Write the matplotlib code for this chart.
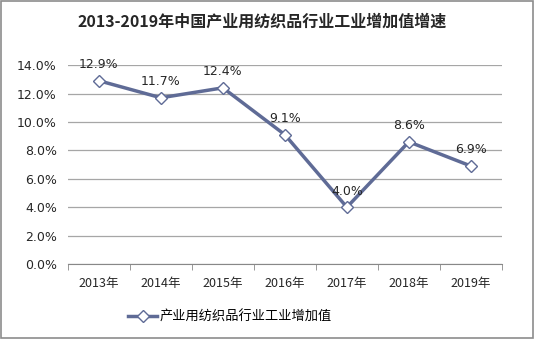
import matplotlib.pyplot as plt
from matplotlib.patches import Rectangle

plt.rcParams['font.family'] = ['Noto Sans CJK SC', 'DejaVu Sans']

years = ["2013年", "2014年", "2015年", "2016年", "2017年", "2018年", "2019年"]
growth = [12.9, 11.7, 12.4, 9.1, 4.0, 8.6, 6.9]
series_name = "产业用纺织品行业工业增加值"

line_color = "#5f6b96"

fig = plt.figure(figsize=(5.35, 3.39), dpi=100)
ax = fig.add_axes([0.127, 0.221, 0.811, 0.587])

x = list(range(len(years)))
ax.plot(x, growth, color=line_color, lw=2.5, marker="D", ms=6.5,
        mfc="white", mec=line_color, mew=1.0, label=series_name, zorder=3)

for xi, v in zip(x, growth):
    ax.annotate(f"{v:.1f}%", (xi, v), xytext=(0, 7), textcoords="offset points",
                ha="center", va="bottom", fontsize=9, color="#262626",
                family="DejaVu Sans")

ax.set_xlim(-0.5, len(years) - 0.5)
ax.set_ylim(0, 14)
ax.set_yticks(range(0, 15, 2))
ax.set_yticklabels([f"{t:.1f}%" for t in range(0, 15, 2)], fontsize=9, family="DejaVu Sans")
ax.set_xticks(x)
ax.set_xticklabels(years, fontsize=9)
ax.set_xticks([i - 0.5 for i in range(len(years) + 1)], minor=True)
ax.tick_params(axis="x", which="major", length=0, pad=9, colors="#262626")
ax.tick_params(axis="x", which="minor", length=4, color="#888888")
ax.tick_params(axis="y", length=0, pad=8, colors="#262626")

ax.grid(axis="y", color="#a6a6a6", lw=0.9)
ax.set_axisbelow(True)
for s in ["top", "right", "left"]:
    ax.spines[s].set_visible(False)
ax.spines["bottom"].set_color("#888888")

fig.text(0.49, 0.935, "2013-2019年中国产业用纺织品行业工业增加值增速",
         ha="center", va="center", fontsize=11.5, fontweight="bold", color="#262626")

fig.legend(loc="center", bbox_to_anchor=(0.43, 0.065), frameon=False,
           fontsize=9.5, handlelength=2.2, handletextpad=0.2)

fig.add_artist(Rectangle((0.002, 0.003), 0.995, 0.994, transform=fig.transFigure,
                         fill=False, ec="#8c8c8c", lw=1.2))

fig.savefig("out.png", dpi=100)
